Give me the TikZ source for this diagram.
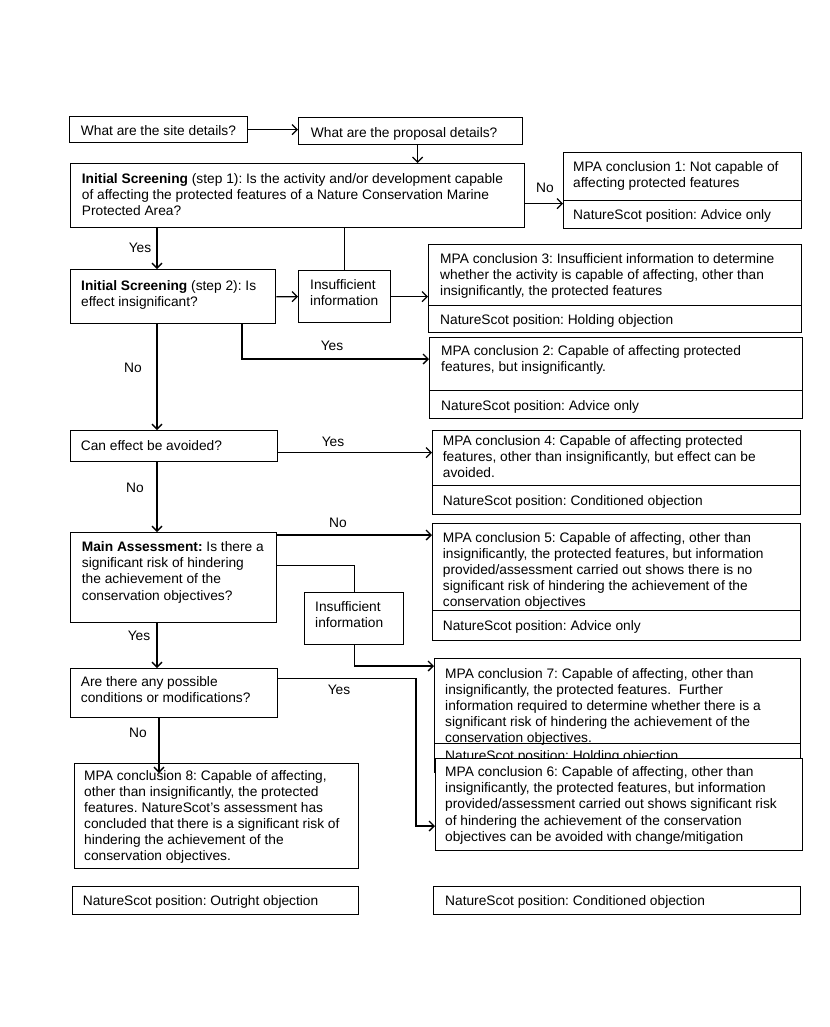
\documentclass[tikz,border=0pt]{standalone}
\usepackage{fontspec}
\setmainfont{Liberation Sans}
\usetikzlibrary{arrows.meta,calc}
\frenchspacing
\newcommand{\mybox}[5]{\node[box, minimum width=#4bp, minimum height=#5bp] (#1) at (#2,#3) {};}
\newcommand{\mytxt}[4]{\node[txt] (#1) at (#2,#3) {#4};}
\begin{document}
\begin{tikzpicture}[x=1bp,y=-1bp,
 box/.style={draw=black, line width=1.3bp, inner sep=0pt, anchor=north west},
 opaque/.style={fill=white},
 txt/.style={inner sep=0pt, anchor=north west, align=left, font=\fontsize{13.8}{16.2}\selectfont},
 lbl/.style={inner sep=0pt, font=\fontsize{13.8}{16.2}\selectfont},
 conn/.style={line width=1.3bp},
 arr/.style={conn, -{Straight Barb[length=5bp,width=10bp,line width=1.3bp]}}]
\useasboundingbox[fill=white] (0,0) rectangle (830,1027);

% boxes
\mybox{site}{69}{116}{178}{26}
\mytxt{site-t}{80.7}{125}{What are the site details?}
\mybox{prop}{298}{117}{224}{27}
\mytxt{prop-t}{310.7}{127.5}{What are the proposal details?}
\mybox{step1}{70}{163}{454}{64}
\mytxt{step1-t}{81.7}{173}{\textbf{Initial Screening} (step 1): Is the activity and/or development capable\\of affecting the protected features of a Nature Conservation Marine\\Protected Area?}
\mybox{c1a}{563}{152}{238}{48}
\mytxt{c1a-t}{573}{161.5}{MPA conclusion 1: Not capable of\\affecting protected features}
\mybox{c1b}{563}{200}{238}{28}
\mytxt{c1b-t}{573}{209}{NatureScot position: Advice only}
\mybox{step2}{70}{269}{205}{54}
\mytxt{step2-t}{81}{280}{\textbf{Initial Screening} (step 2): Is\\effect insignificant?}
\mybox{ins1}{298}{270}{92}{52}
\mytxt{ins1-t}{310}{279}{Insufficient\\information}
\mybox{c3a}{428}{244}{373}{61}
\mytxt{c3a-t}{440}{253}{MPA conclusion 3: Insufficient information to determine\\whether the activity is capable of affecting, other than\\insignificantly, the protected features}
\mybox{c3b}{428}{305}{373}{27}
\mytxt{c3b-t}{440}{314}{NatureScot position: Holding objection}
\mybox{c2a}{429}{337}{373}{53}
\mytxt{c2a-t}{441}{345.5}{MPA conclusion 2: Capable of affecting protected\\features, but insignificantly.}
\mybox{c2b}{429}{390}{373}{28}
\mytxt{c2b-t}{441}{400}{NatureScot position: Advice only}
\mybox{avoid}{70}{430}{207}{31}
\mytxt{avoid-t}{80.7}{440}{Can effect be avoided?}
\mybox{c4a}{432}{430}{368}{55}
\mytxt{c4a-t}{442.7}{435}{MPA conclusion 4: Capable of affecting protected\\features, other than insignificantly, but effect can be\\avoided.}
\mybox{c4b}{432}{485}{368}{29}
\mytxt{c4b-t}{442.7}{495}{NatureScot position: Conditioned objection}
\mybox{main}{70}{532}{206}{90}
\mytxt{main-t}{81.7}{541.5}{\textbf{Main Assessment:} Is there a\\significant risk of hindering\\the achievement of the\\conservation objectives?}
\mybox{c5a}{432}{523}{368}{87}
\mytxt{c5a-t}{442.7}{532}{MPA conclusion 5: Capable of affecting, other than\\insignificantly, the protected features, but information\\provided/assessment carried out shows there is no\\significant risk of hindering the achievement of the\\conservation objectives}
\mybox{c5b}{432}{610}{368}{30}
\mytxt{c5b-t}{442.7}{620.5}{NatureScot position: Advice only}
\mybox{ins2}{304}{592}{99}{52}
\mytxt{ins2-t}{315}{601.5}{Insufficient\\information}
\mybox{cond}{70}{668}{207}{49}
\mytxt{cond-t}{80.7}{676.5}{Are there any possible\\conditions or modifications?}
\mybox{c7a}{434}{658}{366}{85}
\mytxt{c7a-t}{445}{668}{MPA conclusion 7: Capable of affecting, other than\\insignificantly, the protected features.\ \ Further\\information required to determine whether there is a\\significant risk of hindering the achievement of the\\conservation objectives.}
\mybox{c7b}{434}{743}{366}{29}
\mytxt{c7b-t}{445}{750}{NatureScot position: Holding objection}
\node[box, opaque, minimum width=367bp, minimum height=92bp] (c6) at (435,758) {};
\mytxt{c6-t}{445}{766.5}{MPA conclusion 6: Capable of affecting, other than\\insignificantly, the protected features, but information\\provided/assessment carried out shows significant risk\\of hindering the achievement of the conservation\\objectives can be avoided with change/mitigation}
\mybox{c8}{74}{763}{284}{105}
\mytxt{c8-t}{84}{770}{MPA conclusion 8: Capable of affecting,\\other than insignificantly, the protected\\features. NatureScot’s assessment has\\concluded that there is a significant risk of\\hindering the achievement of the\\conservation objectives.}
\mybox{out}{72}{886}{286}{28}
\mytxt{out-t}{82.7}{895}{NatureScot position: Outright objection}
\mybox{cobj}{433}{886}{367}{28}
\mytxt{cobj-t}{445}{895}{NatureScot position: Conditioned objection}

% coordinates
\coordinate (tr) at (157,0);
\coordinate (yb) at (242,359);
\coordinate (i7) at (355,666);
\coordinate (yc) at (416,826);
\coordinate (nc) at (159,773);

% connectors
\draw[arr] (site.east) -- (site.east -| prop.west);
\draw[arr] ([xshift=7bp]prop.south) -- ([xshift=7bp]prop.south |- step1.north);
\draw[arr] ([yshift=-8bp]step1.east) -- ([yshift=-8bp]step1.east -| c1a.west);
\draw[conn] (ins1.north |- step1.south) -- (ins1.north);
\draw[arr] (step1.south -| tr) -- (step2.north -| tr);
\draw[arr] (step2.east) -- (ins1.west);
\draw[arr] (ins1.east) -- (ins1.east -| c3a.west);
\draw[arr] (step2.south -| yb) -- (yb) -- (yb -| c2a.west);
\draw[arr] (step2.south -| tr) -- (avoid.north -| tr);
\draw[arr] ([yshift=-6.5bp]avoid.east) -- ([yshift=-6.5bp]avoid.east -| c4a.west);
\draw[arr] (avoid.south -| tr) -- (main.north -| tr);
\draw[arr] ([yshift=-3bp]main.north east) -- ([yshift=-3bp]main.north east -| c5a.west);
\draw[conn] ([yshift=12bp]main.east) -- ([yshift=12bp]main.east -| ins2.north) -- (ins2.north);
\draw[arr] (ins2.south) -- (ins2.south |- i7) -- (i7 -| c7a.west);
\draw[arr] (main.south -| tr) -- (cond.north -| tr);
\draw[arr] ([yshift=14.5bp]cond.east) -- ([yshift=14.5bp]cond.east -| yc) -- (yc) -- (yc -| c6.west);
\draw[arr] (cond.south -| nc) -- (nc);

% labels
\node[lbl] (l1) at (545,188) {No};
\node[lbl] (l2) at (140,248) {Yes};
\node[lbl] (l3) at (332,346) {Yes};
\node[lbl] (l4) at (133,368) {No};
\node[lbl] (l5) at (333,442) {Yes};
\node[lbl] (l6) at (135,488) {No};
\node[lbl] (l7) at (338,523) {No};
\node[lbl] (l8) at (139,636) {Yes};
\node[lbl] (l9) at (339,690) {Yes};
\node[lbl] (l10) at (138,733) {No};
\end{tikzpicture}
\end{document}
